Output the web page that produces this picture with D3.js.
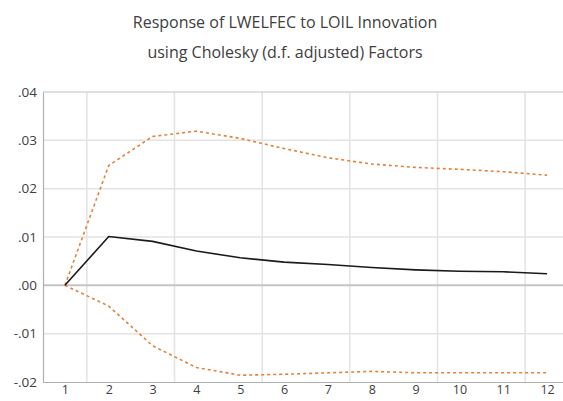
<!DOCTYPE html>
<html><head><meta charset="utf-8">
<script src="https://cdn.jsdelivr.net/npm/d3@7"></script>
<style>body{margin:0;background:#fff}svg{display:block}</style>
</head><body>
<svg id="c" width="563" height="401"></svg>
<script>
const periods = [1,2,3,4,5,6,7,8,9,10,11,12];
const response = [0, 0.0101, 0.0091, 0.0071, 0.0057, 0.0048, 0.0043, 0.0037, 0.0032, 0.0029, 0.0028, 0.0024];
const upper = [0, 0.0248, 0.0308, 0.0319, 0.0304, 0.0283, 0.0264, 0.0251, 0.0244, 0.0240, 0.0235, 0.0228];
const lower = [0, -0.0043, -0.0125, -0.0170, -0.0186, -0.0184, -0.0181, -0.0178, -0.0181, -0.0181, -0.0181, -0.0181];
const yTicks = [-0.02, -0.01, 0, 0.01, 0.02, 0.03, 0.04];
const yTickLabels = ["-.02", "-.01", ".00", ".01", ".02", ".03", ".04"];
const xGrid = [1.5, 3.5, 5.5, 7.5, 9.5, 11.5];
const titleLines = ["Response of LWELFEC to LOIL Innovation", "using Cholesky (d.f. adjusted) Factors"];

const svg = d3.select("#c");
const L = 43, R = 569, T = 92, B = 382;
const x = d3.scaleLinear().domain([0.5, 12.5]).range([L, R]);
const y = d3.scaleLinear().domain([-0.02, 0.04]).range([B, T]);
const font = "'Open Sans', 'Noto Sans', sans-serif";

// grid
svg.append("g").selectAll("line").data(yTicks.filter(v => v !== 0 && v !== -0.02 && v !== 0.04)).join("line")
  .attr("x1", L).attr("x2", R).attr("y1", d => y(d)).attr("y2", d => y(d))
  .attr("stroke", "#e3e3e3").attr("stroke-width", 1.5);
svg.append("g").selectAll("line").data(xGrid).join("line")
  .attr("x1", d => x(d)).attr("x2", d => x(d)).attr("y1", T).attr("y2", B)
  .attr("stroke", "#e3e3e3").attr("stroke-width", 1.5);
// top border
svg.append("line").attr("x1", L).attr("x2", R).attr("y1", y(0.04)).attr("y2", y(0.04))
  .attr("stroke", "#d6d6d6").attr("stroke-width", 1.5);
// zero line
svg.append("line").attr("x1", L).attr("x2", R).attr("y1", y(0)).attr("y2", y(0))
  .attr("stroke", "#c4c4c4").attr("stroke-width", 2);

// axes
const yAxis = d3.axisLeft(y).tickValues(yTicks).tickSize(0).tickPadding(6)
  .tickFormat((d, i) => yTickLabels[i]);
const gy = svg.append("g").attr("transform", `translate(${L},0)`).call(yAxis);
gy.select(".domain").attr("stroke", "#b0b0b0").attr("stroke-width", 1.2);
gy.selectAll("text").attr("font-family", font).attr("font-size", 13.5).attr("fill", "#404040");

const xAxis = d3.axisBottom(x).tickValues(periods).tickSize(0).tickPadding(3).tickFormat(d3.format("d"));
const gx = svg.append("g").attr("transform", `translate(0,${B})`).call(xAxis);
gx.select(".domain").attr("stroke", "#b0b0b0").attr("stroke-width", 1.2);
gx.selectAll("text").attr("font-family", font).attr("font-size", 12.5).attr("fill", "#404040");

// lines
const line = d3.line().x((d, i) => x(periods[i])).y(d => y(d));
svg.append("path").datum(upper).attr("d", line).attr("fill", "none")
  .attr("stroke", "#E5803A").attr("stroke-width", 1.6).attr("stroke-dasharray", "3,3");
svg.append("path").datum(lower).attr("d", line).attr("fill", "none")
  .attr("stroke", "#E5803A").attr("stroke-width", 1.6).attr("stroke-dasharray", "3,3");
svg.append("path").datum(response).attr("d", line).attr("fill", "none")
  .attr("stroke", "#1a1a1a").attr("stroke-width", 1.6);

// title
svg.append("g").selectAll("text").data(titleLines).join("text")
  .attr("x", 285).attr("y", (d, i) => 28 + i * 30)
  .attr("text-anchor", "middle").attr("font-family", font).attr("font-size", 16)
  .attr("fill", "#404040").text(d => d);
</script>
</body></html>
